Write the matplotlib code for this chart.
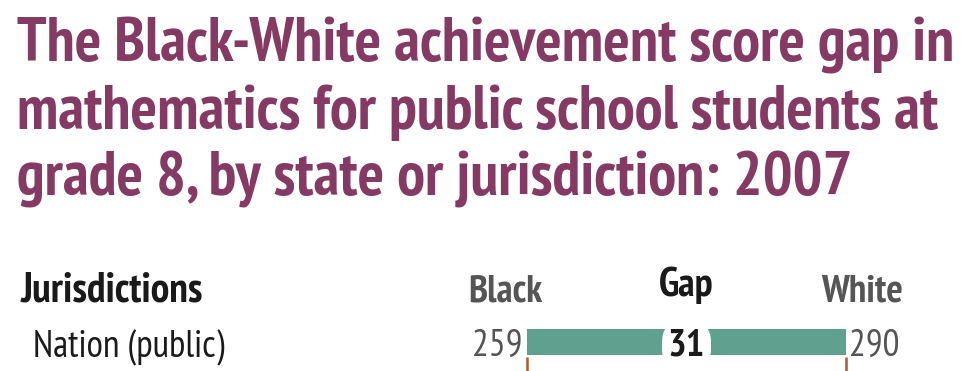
import matplotlib
matplotlib.use("Agg")
import matplotlib.pyplot as plt

# Data
jurisdictions = ["Nation (public)"]
black_scores = [259]
white_scores = [290]
gaps = [w - b for b, w in zip(black_scores, white_scores)]

title_lines = [
    "The Black-White achievement score gap in",
    "mathematics for public school students at",
    "grade 8, by state or jurisdiction: 2007",
]

FONT = ["PT Sans Narrow", "Roboto Condensed", "DejaVu Sans"]

TITLE_COLOR = "#853a63"
BAR_COLOR = "#5fa08f"
GRAY = "#555555"
DARK = "#1a1a1a"
TICK_COLOR = "#b0582e"

W, H = 979, 371
fig = plt.figure(figsize=(W / 100, H / 100), dpi=100)

# Layout axes in pixel units for the text block
lay = fig.add_axes([0, 0, 1, 1])
lay.set_xlim(0, W)
lay.set_ylim(H, 0)
lay.axis("off")

for i, line in enumerate(title_lines):
    lay.text(17, 62 + i * 67, line, fontsize=45, fontweight="bold",
             color=TITLE_COLOR, family=FONT, va="baseline", ha="left")

lay.text(21, 302, "Jurisdictions", fontsize=30, fontweight="bold",
         color=DARK, family=FONT, va="baseline")
lay.text(33, 357, jurisdictions[0], fontsize=27, color=DARK,
         family=FONT, va="baseline")
lay.text(543, 302, "Black", fontsize=28, fontweight="bold",
         color=GRAY, family=FONT, va="baseline", ha="right")
lay.text(903, 302, "White", fontsize=28, fontweight="bold",
         color=GRAY, family=FONT, va="baseline", ha="right")

# Data axes: score scale horizontally, pixel rows vertically
ax = fig.add_axes([0, 0, 1, 1], zorder=2)
px_per_pt = (846 - 527) / (white_scores[0] - black_scores[0])
ax.set_xlim(black_scores[0] - 527 / px_per_pt,
            white_scores[0] + (W - 846) / px_per_pt)
ax.set_ylim(H, 0)
ax.axis("off")
ax.patch.set_alpha(0)

ax.text((black_scores[0] + white_scores[0]) / 2, 296, "Gap", fontsize=29,
        fontweight="bold", color=DARK, family=FONT, va="baseline",
        ha="center")

for b, w, g in zip(black_scores, white_scores, gaps):
    ax.barh(342, w - b, left=b, height=26, color=BAR_COLOR, zorder=2)
    ax.text(b - 0.4, 356, str(b), fontsize=27, color=GRAY, family=FONT,
            va="baseline", ha="right")
    ax.text(w + 0.3, 356, str(w), fontsize=27, color=GRAY, family=FONT,
            va="baseline", ha="left")
    ax.text((b + w) / 2, 355, str(g), fontsize=28, fontweight="bold",
            color=DARK, family=FONT, va="baseline", ha="center",
            zorder=3,
            bbox=dict(boxstyle="round,pad=0.15,rounding_size=0.5",
                      fc="white", ec="none"))
    ax.vlines([b, w], 357, H, color=TICK_COLOR, lw=1.8, zorder=1)

fig.savefig("out.png", dpi=100, facecolor="white")
